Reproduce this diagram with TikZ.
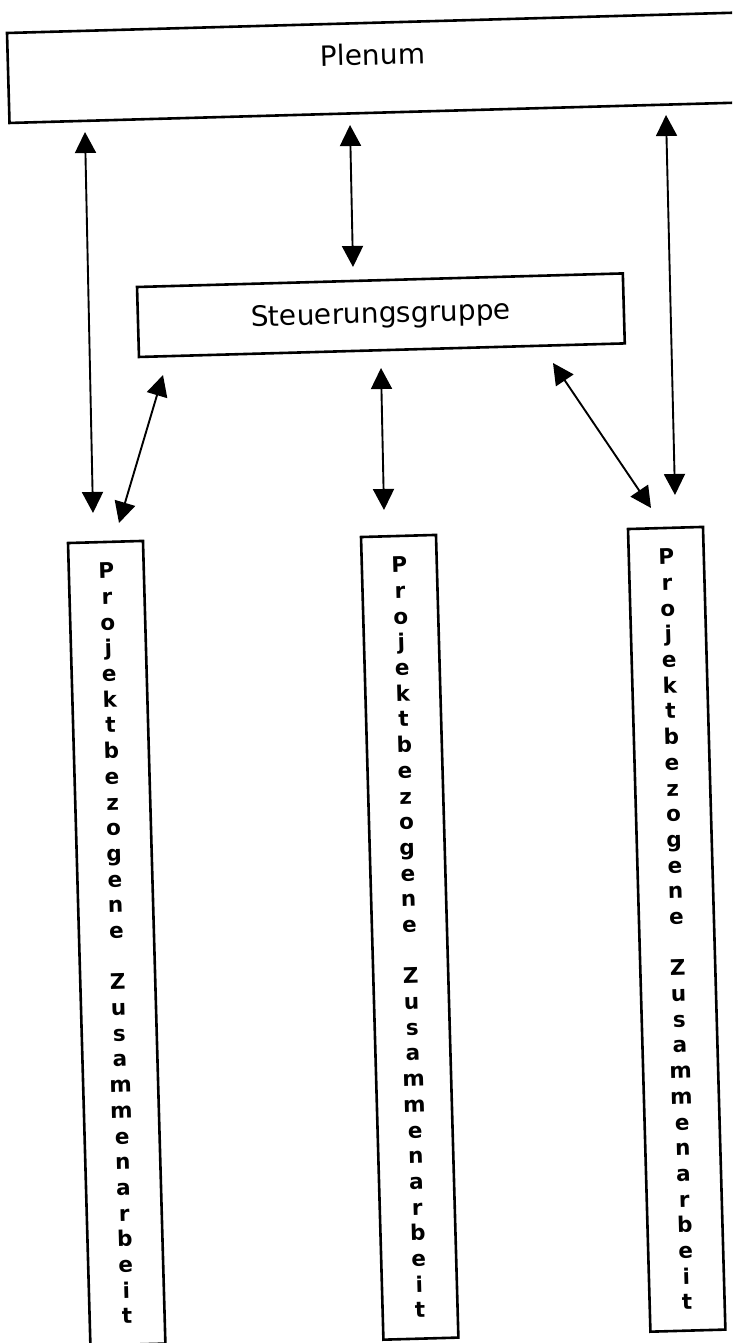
\documentclass[tikz,border=0pt]{standalone}
\usepackage{fontspec}
\setmainfont{DejaVu Sans}
\usetikzlibrary{arrows.meta}
\newcommand{\projtext}{P\\r\\o\\j\\e\\k\\t\\b\\e\\z\\o\\g\\e\\n\\e\\[25.7pt]Z\\u\\s\\a\\m\\m\\e\\n\\a\\r\\b\\e\\i\\t}
\begin{document}
\begin{tikzpicture}[x=1pt,y=-1pt,
  box/.style={draw=black, line width=2.6pt, rectangle, inner sep=0pt, rotate=1.6, fill=white},
  bigbox/.style={box, font=\fontsize{28}{34}\selectfont},
  colbox/.style={box, minimum width=75pt, minimum height=803pt, align=center,
     font=\bfseries\fontsize{21.5}{25.7}\selectfont},
  link/.style={line width=1.9pt, {Triangle[width=21pt,length=21pt]}-{Triangle[width=21pt,length=21pt]}}]
\useasboundingbox (0,0) rectangle (732,1343);
\clip (0,0) rectangle (732,1343);
\fill[white] (0,0) rectangle (732,1343);

\node[bigbox, minimum width=730pt, text height=42pt, text depth=48pt] (plenum) at (373.1,67.8) {Plenum};
\node[bigbox, minimum width=486pt, text height=42.7pt, text depth=27.3pt] (steuer) at (380.9,315.2) {Steuerungsgruppe};

\node[colbox] (colL) at (116.7,943.3) {\projtext};
\node[colbox] (colM) at (409.7,937.3) {\projtext};
\node[colbox] (colR) at (676.7,929.3) {\projtext};

\coordinate (p1t) at (85,132);  \coordinate (p1b) at (93,513);
\coordinate (p2t) at (350,125); \coordinate (p2b) at (353,267);
\coordinate (p3t) at (666,115); \coordinate (p3b) at (675,495);
\coordinate (s1t) at (163,375); \coordinate (s1b) at (119,523);
\coordinate (s2t) at (381,368); \coordinate (s2b) at (384,510);
\coordinate (s3t) at (553,363); \coordinate (s3b) at (651,508);

\draw[link] (p1t) -- (p1b);
\draw[link] (p2t) -- (p2b);
\draw[link] (p3t) -- (p3b);
\draw[link] (s1t) -- (s1b);
\draw[link] (s2t) -- (s2b);
\draw[link] (s3t) -- (s3b);
\end{tikzpicture}
\end{document}
